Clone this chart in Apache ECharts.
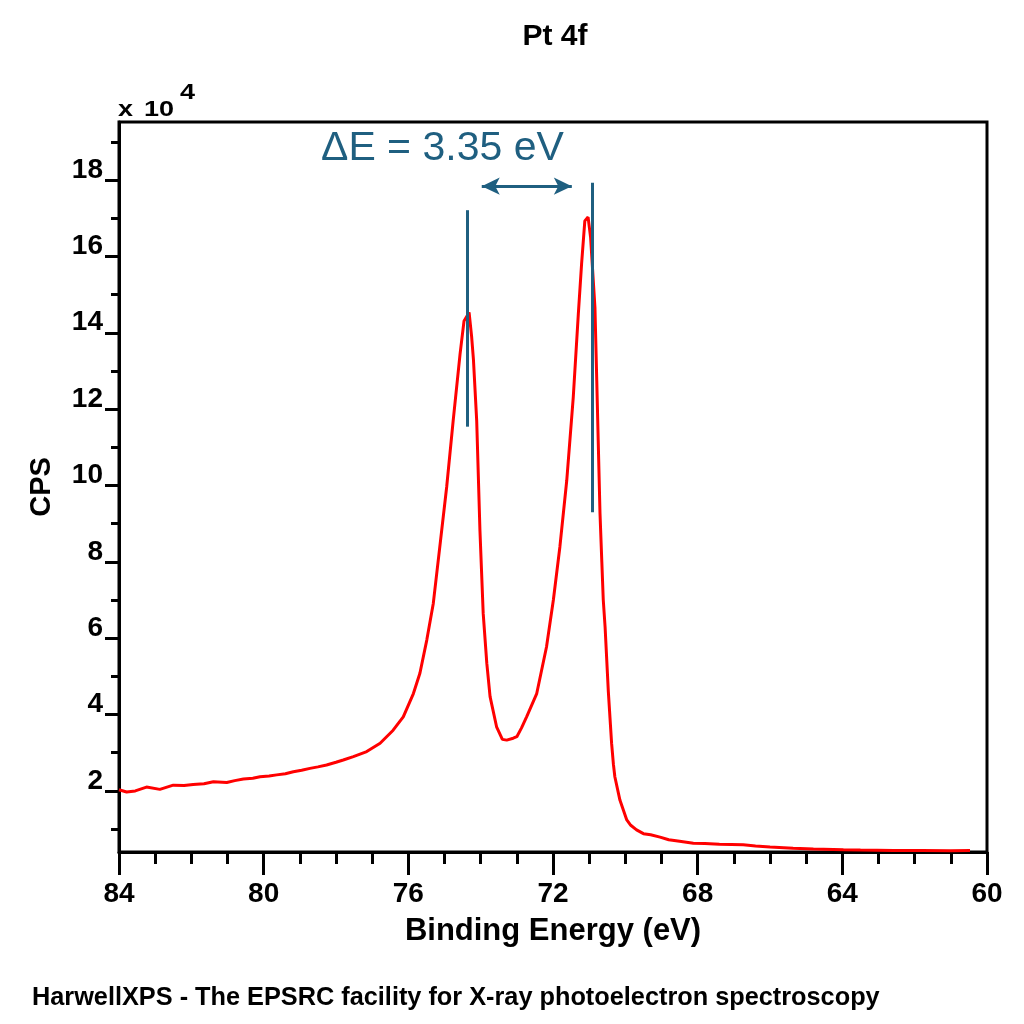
<!DOCTYPE html>
<html>
<head>
<meta charset="utf-8">
<title>Pt 4f</title>
<script src="https://cdn.jsdelivr.net/npm/echarts@6/dist/echarts.min.js"></script>
<style>
  html, body { margin: 0; padding: 0; background: #fff; }
  #chart { width: 1024px; height: 1024px; }
</style>
</head>
<body>
<div id="chart"></div>
<script>
// binding energy (eV) and counts per second
var energy = [
  84.00, 83.79, 83.55, 83.24, 82.87, 82.50, 82.20, 81.95, 81.65, 81.39,
  81.02, 80.80, 80.56, 80.30, 80.10, 79.85, 79.64, 79.40, 79.18, 78.95,
  78.72, 78.50, 78.26, 78.00, 77.80, 77.52, 77.15, 76.78, 76.42, 76.14,
  75.86, 75.68, 75.49, 75.31, 75.13, 74.94, 74.76, 74.57, 74.46, 74.32,
  74.25, 74.20, 74.11, 74.02, 73.93, 73.83, 73.74, 73.56, 73.40, 73.28,
  73.10, 73.00, 72.87, 72.73, 72.45, 72.18, 71.99, 71.81, 71.62, 71.44,
  71.30, 71.21, 71.12, 71.03, 70.96, 70.84, 70.79, 70.75, 70.70, 70.65,
  70.61, 70.56, 70.47, 70.38, 70.33, 70.29, 70.15, 69.96, 69.85, 69.69,
  69.50, 69.30, 69.04, 68.80, 68.50, 68.12, 67.80, 67.40, 66.74, 66.40,
  66.00, 65.36, 64.80, 63.97, 63.50, 62.59, 61.80, 61.00, 60.47
];
var cps = [
  20300, 19700, 20000, 21000, 20400, 21500, 21400, 21700, 21900, 22400,
  22200, 22700, 23100, 23300, 23700, 23900, 24200, 24500, 25000, 25400,
  25900, 26300, 26800, 27500, 28100, 29000, 30300, 32500, 35900, 39400,
  45500, 50800, 59500, 69100, 83900, 99600, 117000, 134400, 143100, 145300,
  139000, 133000, 117000, 88200, 66500, 53400, 44700, 36800, 33500, 33300,
  33800, 34200, 36500, 39400, 45500, 57700, 70000, 83900, 101300, 123100,
  144900, 158000, 169300, 170300, 164900, 146600, 127500, 111800, 92600, 80000,
  70000, 63000, 46000, 32500, 27000, 23700, 17600, 12400, 11000, 9800,
  8800, 8500, 7900, 7200, 6800, 6300, 6200, 6000, 5900, 5600,
  5300, 5000, 4800, 4600, 4500, 4400, 4400, 4300, 4400
];

// axis ticks
var yMajor = [20000, 40000, 60000, 80000, 100000, 120000, 140000, 160000, 180000];
var yMinor = [10000, 30000, 50000, 70000, 90000, 110000, 130000, 150000, 170000, 190000];

// peak markers and separation arrow
var peakLeft = { x: 74.36, y0: 115400, y1: 172100 };
var peakRight = { x: 70.92, y0: 93000, y1: 179300 };
var arrow = { x0: 73.97, x1: 71.48, y: 178400 };

var blue = '#1f5f80';
var font = 'Liberation Sans, Arial, sans-serif';

var myChart = echarts.init(document.getElementById('chart'));

var data = [];
for (var i = 0; i < energy.length; i++) {
    data.push([energy[i], cps[i]]);
}

// small bold text squashed a little, used for the "x 10^4" multiplier
function unitText(str, x, y) {
    return {
        type: 'text',
        x: x, y: y, scaleY: 0.8,
        style: {
            text: str, verticalAlign: 'bottom', lineHeight: 20,
            fontFamily: font, fontWeight: 'bold', fontSize: 27, fill: '#000'
        }
    };
}

var option = {
    backgroundColor: '#fff',
    animation: false,
    title: {
        text: 'Pt 4f',
        left: 550,
        top: 17,
        textAlign: 'center',
        textStyle: { fontFamily: font, fontWeight: 'bold', fontSize: 30, color: '#000' }
    },
    grid: {
        left: 119, right: 37, top: 122, bottom: 172,
        show: true, borderColor: '#000', borderWidth: 3,
        containLabel: false
    },
    xAxis: {
        type: 'value',
        inverse: true,
        min: 60, max: 84, interval: 4,
        name: 'Binding Energy (eV)',
        nameLocation: 'middle',
        nameGap: 64,
        nameTextStyle: { fontFamily: font, fontWeight: 'bold', fontSize: 31, color: '#000' },
        axisLine: { onZero: false, lineStyle: { color: '#000', width: 3 } },
        axisTick: { inside: false, length: 23, lineStyle: { color: '#000', width: 3 } },
        minorTick: { show: true, splitNumber: 4, length: 12, lineStyle: { color: '#000', width: 3 } },
        axisLabel: { margin: 28, fontFamily: font, fontWeight: 'bold', fontSize: 28, color: '#000' },
        splitLine: { show: false }
    },
    yAxis: [{
        type: 'value',
        position: 'left',
        min: 4000, max: 195200,
        name: 'CPS',
        nameLocation: 'middle',
        nameRotate: 90,
        nameGap: 63,
        nameTextStyle: { fontFamily: font, fontWeight: 'bold', fontSize: 29, color: '#000' },
        axisLine: { show: true, onZero: false, lineStyle: { color: '#000', width: 3 } },
        axisTick: { show: true, length: 14, customValues: yMajor, lineStyle: { color: '#000', width: 3 } },
        axisLabel: {
            customValues: yMajor,
            margin: 16,
            verticalAlign: 'bottom',
            lineHeight: 20,
            fontFamily: font, fontWeight: 'bold', fontSize: 28, color: '#000',
            formatter: function (v) { return String(v / 10000); }
        },
        splitLine: { show: false }
    }, {
        type: 'value',
        position: 'left',
        min: 4000, max: 195200,
        axisLine: { show: false },
        axisTick: { show: true, length: 8, customValues: yMinor, lineStyle: { color: '#000', width: 3 } },
        axisLabel: { show: false },
        splitLine: { show: false }
    }],
    graphic: [
        unitText('x', 118, 118),
        unitText('10', 144, 118),
        unitText('4', 180, 101),
        {
            type: 'text',
            left: 321, top: 128,
            style: { text: 'ΔE = 3.35 eV', fontFamily: font, fontSize: 41, fill: blue }
        }, {
            type: 'text',
            left: 32, top: 986,
            style: {
                text: 'HarwellXPS - The EPSRC facility for X-ray photoelectron spectroscopy',
                fontFamily: font, fontWeight: 'bold', fontSize: 25.3, fill: '#000'
            }
        }
    ],
    series: [{
        name: 'Pt 4f',
        type: 'line',
        data: data,
        showSymbol: false,
        smooth: false,
        lineStyle: { color: '#ff0000', width: 3 },
        itemStyle: { color: '#ff0000' },
        markLine: {
            silent: true,
            animation: false,
            label: { show: false },
            lineStyle: { color: blue, width: 3, type: 'solid' },
            data: [
                [{ coord: [peakLeft.x, peakLeft.y0], symbol: 'none' },
                 { coord: [peakLeft.x, peakLeft.y1], symbol: 'none' }],
                [{ coord: [peakRight.x, peakRight.y0], symbol: 'none' },
                 { coord: [peakRight.x, peakRight.y1], symbol: 'none' }],
                [{ coord: [arrow.x0, arrow.y], symbol: 'arrow', symbolSize: [13, 18] },
                 { coord: [arrow.x1, arrow.y], symbol: 'arrow', symbolSize: [13, 18] }]
            ]
        }
    }]
};
myChart.setOption(option);
</script>
</body>
</html>
